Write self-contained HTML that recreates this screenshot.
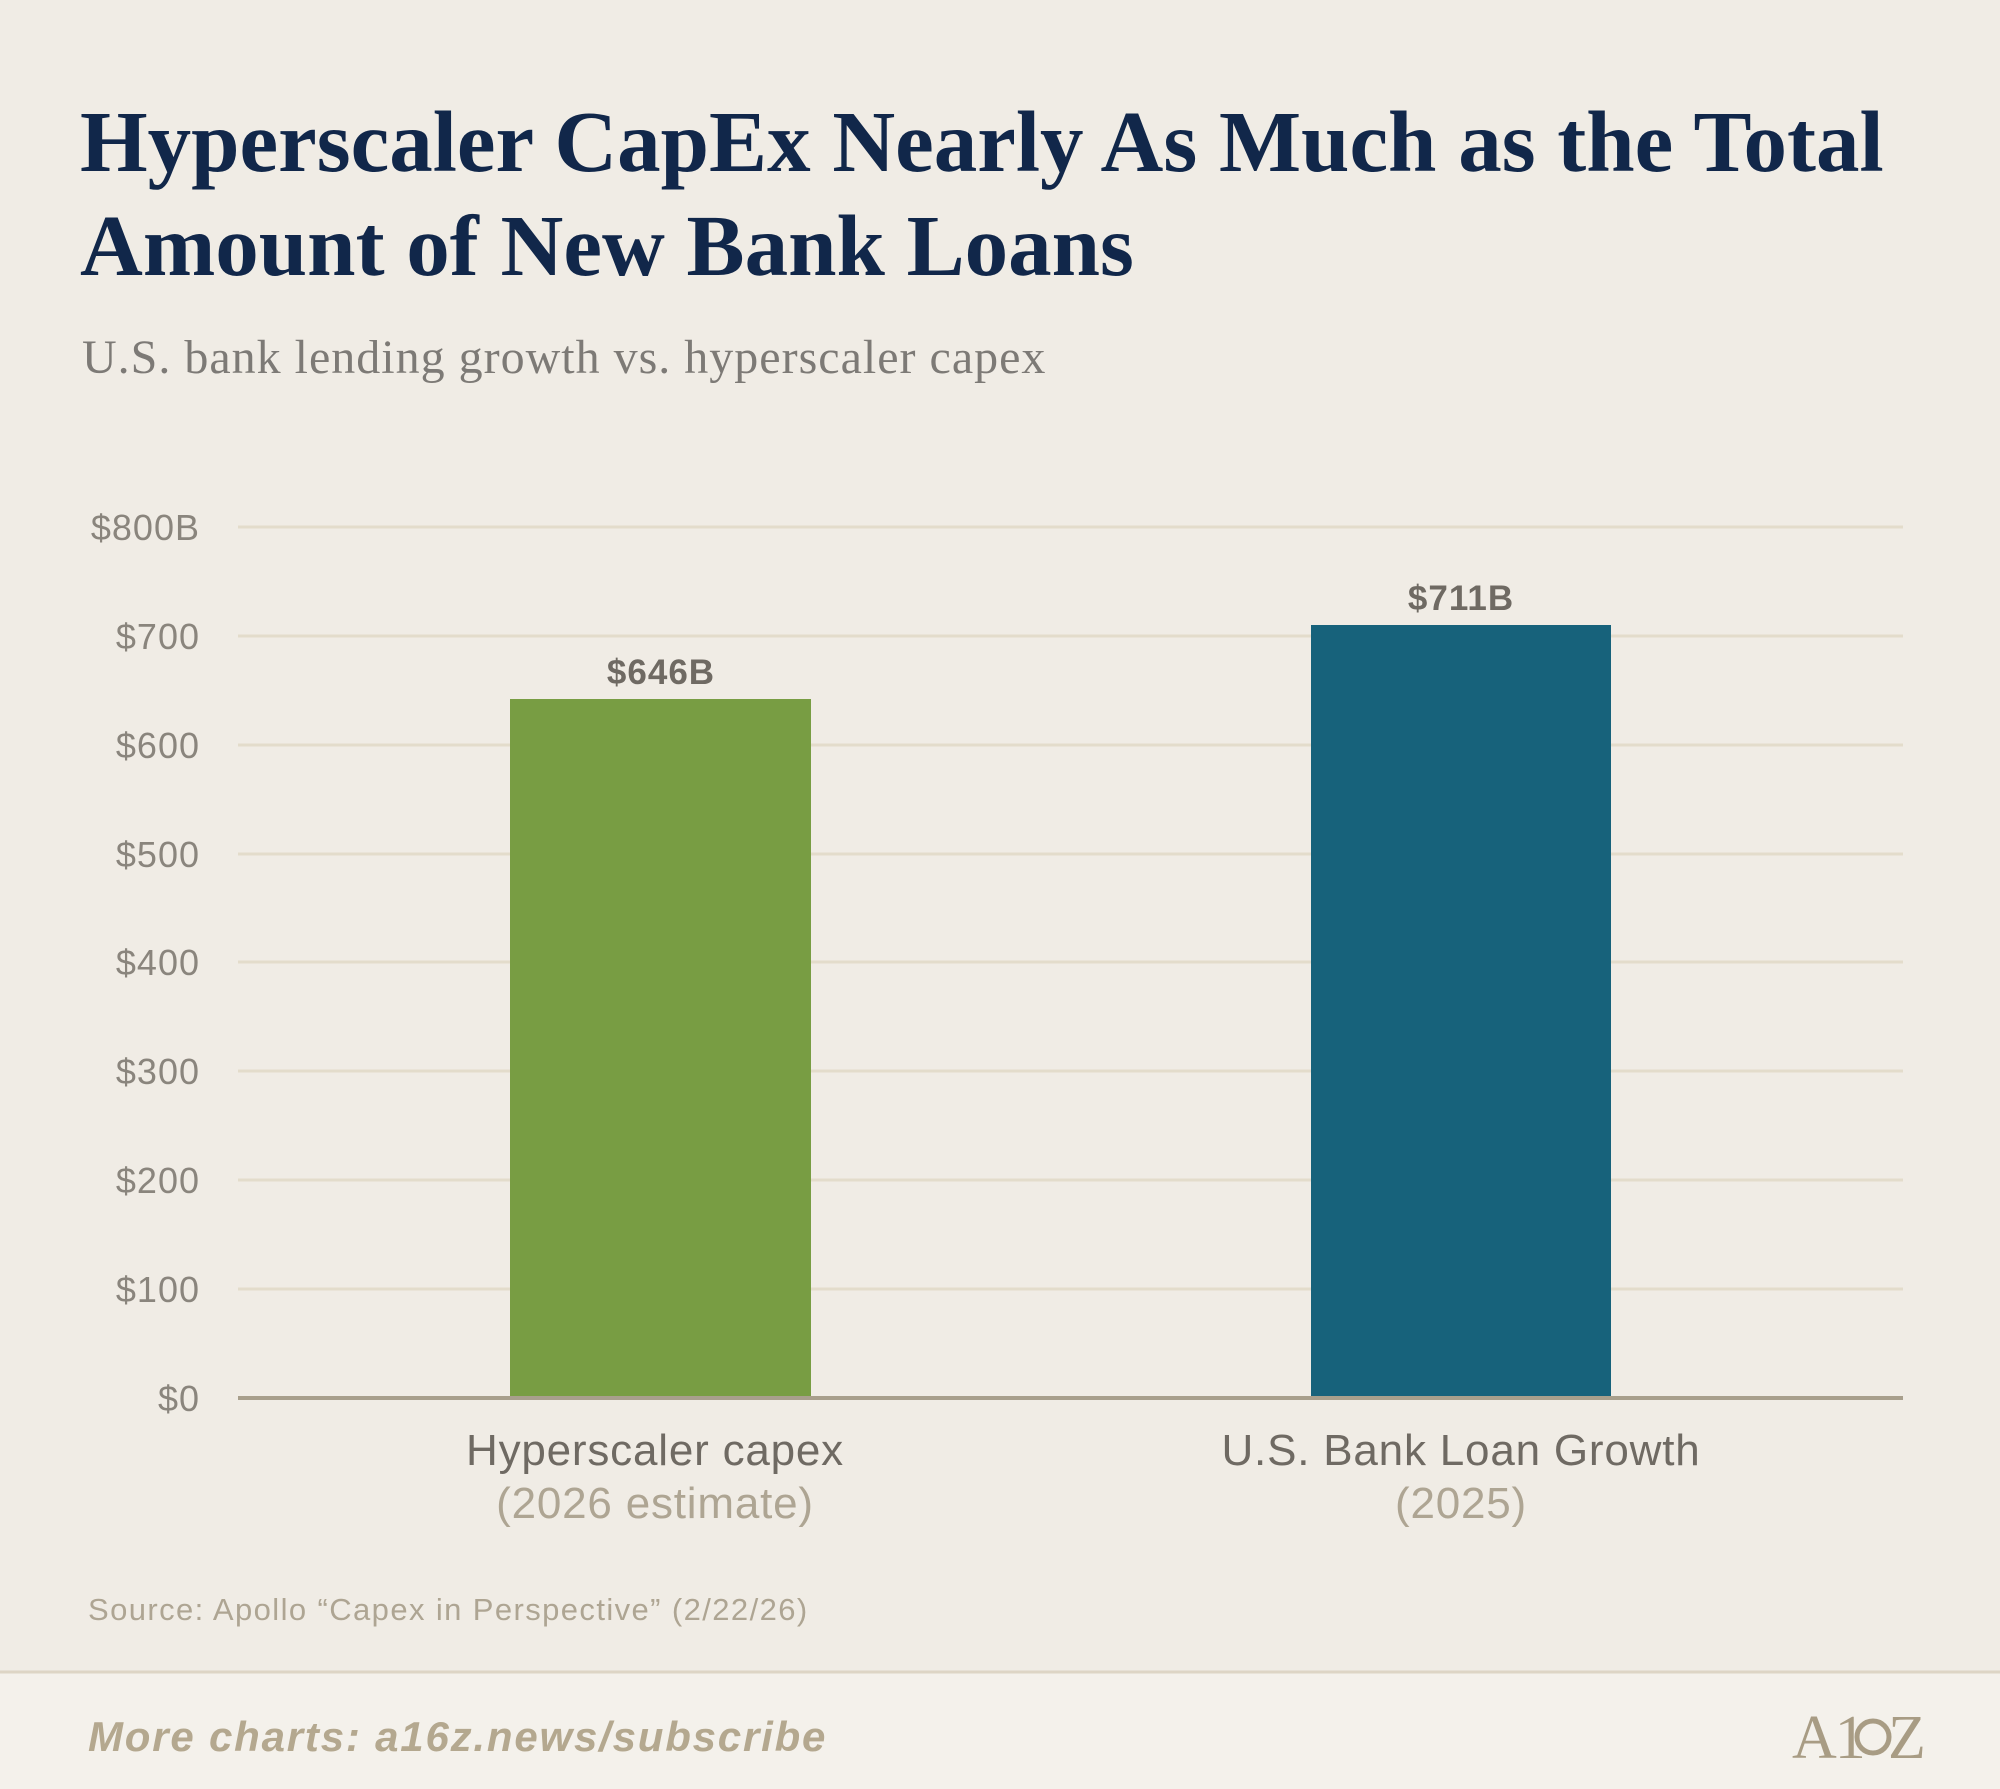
<!DOCTYPE html>
<html><head><meta charset="utf-8"><style>
html,body{margin:0;padding:0}
body{width:2000px;height:1789px;background:#f0ece5;position:relative;overflow:hidden;font-family:"Liberation Sans",sans-serif}
.t{position:absolute;white-space:nowrap}
</style></head><body>
<div class="t" style="left:80px;top:90px;font-family:'Liberation Serif',serif;font-weight:bold;font-size:87px;line-height:104px;color:#11274a;letter-spacing:0px">Hyperscaler CapEx Nearly As Much as the Total<br>Amount of New Bank Loans</div>
<div class="t" style="left:82px;top:330px;font-family:'Liberation Serif',serif;font-size:48px;color:#7d7a76;letter-spacing:1px">U.S. bank lending growth vs. hyperscaler capex</div>
<svg class="t" style="left:0;top:0" width="2000" height="1789">
<g stroke="#e3dccb" stroke-width="3">
<line x1="238" x2="1903" y1="527" y2="527"/><line x1="238" x2="1903" y1="636" y2="636"/>
<line x1="238" x2="1903" y1="745" y2="745"/><line x1="238" x2="1903" y1="854" y2="854"/>
<line x1="238" x2="1903" y1="962" y2="962"/><line x1="238" x2="1903" y1="1071" y2="1071"/>
<line x1="238" x2="1903" y1="1180" y2="1180"/><line x1="238" x2="1903" y1="1289" y2="1289"/>
</g>
<rect x="510" y="699" width="301" height="699" fill="#789d43"/>
<rect x="1311" y="625" width="300" height="773" fill="#17627b"/>
<line x1="238" x2="1903" y1="1398" y2="1398" stroke="#a89f8c" stroke-width="4"/>
<g font-family="Liberation Sans,sans-serif" font-size="36" fill="#8a857d" text-anchor="end" letter-spacing="1">
<text x="200" y="540">$800B</text><text x="200" y="649">$700</text><text x="200" y="758">$600</text>
<text x="200" y="867">$500</text><text x="200" y="975">$400</text><text x="200" y="1084">$300</text>
<text x="200" y="1193">$200</text><text x="200" y="1302">$100</text><text x="200" y="1411">$0</text>
</g>
<g font-family="Liberation Sans,sans-serif" font-size="35" font-weight="bold" fill="#6f6a63" text-anchor="middle" letter-spacing="1">
<text x="661" y="684">$646B</text><text x="1461" y="610">$711B</text>
</g>
<g font-family="Liberation Sans,sans-serif" font-size="44" text-anchor="middle" letter-spacing="0.8">
<text x="655" y="1465" fill="#6f6a63">Hyperscaler capex</text>
<text x="655" y="1518" fill="#aea593">(2026 estimate)</text>
<text x="1461" y="1465" fill="#6f6a63">U.S. Bank Loan Growth</text>
<text x="1461" y="1518" fill="#aea593">(2025)</text>
</g>
<text x="88" y="1620" font-family="Liberation Sans,sans-serif" font-size="31" fill="#aea593" letter-spacing="1.4">Source: Apollo “Capex in Perspective” (2/22/26)</text>
<rect x="0" y="1671" width="2000" height="118" fill="#f4f1eb"/>
<line x1="0" x2="2000" y1="1672" y2="1672" stroke="#ddd5c5" stroke-width="3"/>
<text x="88" y="1751" font-family="Liberation Sans,sans-serif" font-size="42" font-weight="bold" font-style="italic" fill="#b4a88f" letter-spacing="1.8">More charts: a16z.news/subscribe</text>
<text x="1792" y="1758" font-family="Liberation Serif,serif" font-size="62" fill="#a89c84" letter-spacing="-2">A1</text>
<circle cx="1873" cy="1737" r="16" fill="none" stroke="#a89c84" stroke-width="5"/>
<text x="1888" y="1758" font-family="Liberation Serif,serif" font-size="62" fill="#a89c84">Z</text>
</svg>
</body></html>
